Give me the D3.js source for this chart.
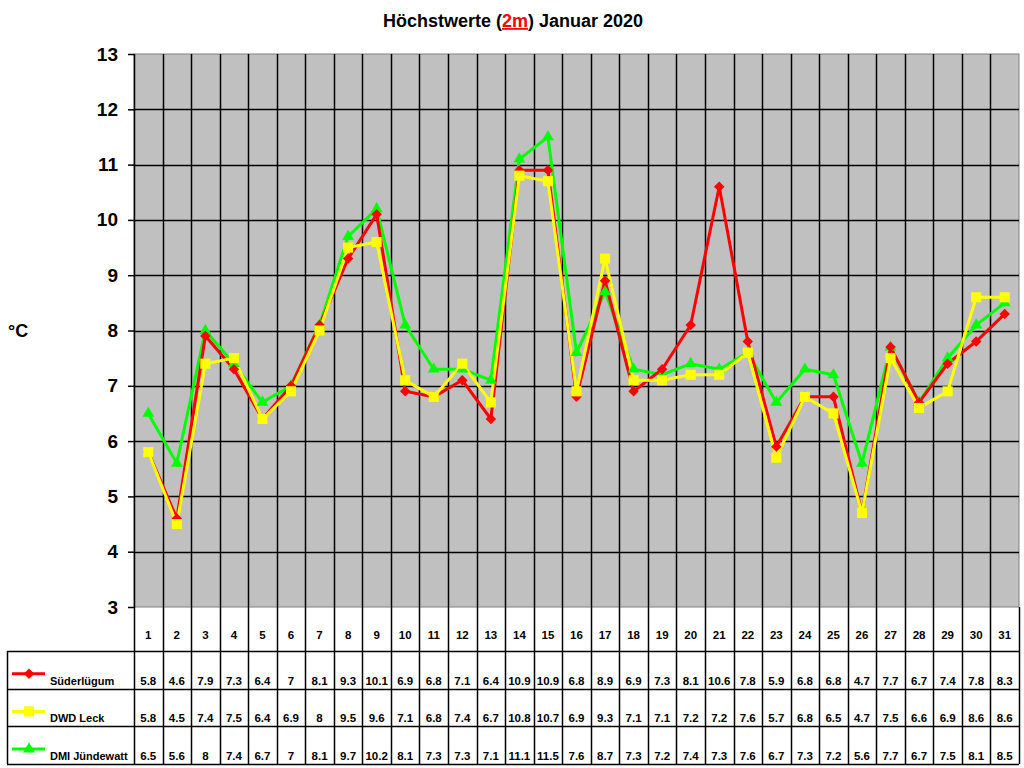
<!DOCTYPE html>
<html>
<head>
<meta charset="utf-8">
<script src="https://cdn.jsdelivr.net/npm/d3@7"></script>
<style>
  body { margin: 0; background: #fff; }
  text { font-family: Arial, "Liberation Sans", sans-serif; font-weight: bold; }
</style>
</head>
<body>
<div id="container"></div>
<script>
// Tageswerte Januar 2020
const days = d3.range(1, 32);
const suederluegum = [5.8, 4.6, 7.9, 7.3, 6.4, 7, 8.1, 9.3, 10.1, 6.9, 6.8, 7.1, 6.4, 10.9, 10.9, 6.8, 8.9, 6.9, 7.3, 8.1, 10.6, 7.8, 5.9, 6.8, 6.8, 4.7, 7.7, 6.7, 7.4, 7.8, 8.3];
const dwdLeck = [5.8, 4.5, 7.4, 7.5, 6.4, 6.9, 8, 9.5, 9.6, 7.1, 6.8, 7.4, 6.7, 10.8, 10.7, 6.9, 9.3, 7.1, 7.1, 7.2, 7.2, 7.6, 5.7, 6.8, 6.5, 4.7, 7.5, 6.6, 6.9, 8.6, 8.6];
const dmiJuendewatt = [6.5, 5.6, 8, 7.4, 6.7, 7, 8.1, 9.7, 10.2, 8.1, 7.3, 7.3, 7.1, 11.1, 11.5, 7.6, 8.7, 7.3, 7.2, 7.4, 7.3, 7.6, 6.7, 7.3, 7.2, 5.6, 7.7, 6.7, 7.5, 8.1, 8.5];
const seriesNames = ["Süderlügum", "DWD Leck", "DMI Jündewatt"];
const yTicks = d3.range(3, 14);

const series = [
  { name: seriesNames[0], values: suederluegum, color: "#ff0000", symbol: d3.symbolDiamond2, size: 70 },
  { name: seriesNames[1], values: dwdLeck, color: "#ffff00", symbol: d3.symbolSquare2, size: 130 },
  { name: seriesNames[2], values: dmiJuendewatt, color: "#00ff00", symbol: d3.symbolTriangle2, size: 100 }
];

const width = 1024, height = 768;
const plot = { left: 134, right: 1019, top: 54, bottom: 607 };
const table = { left: 7, dayBottom: 651, rowH: 37.7 };

const svg = d3.create("svg").attr("width", width).attr("height", height);
container.append(svg.node());

const x = d3.scaleBand().domain(days).range([plot.left, plot.right]);
const y = d3.scaleLinear().domain([3, 13]).range([plot.bottom, plot.top]);
const cx = d => x(d) + x.bandwidth() / 2;

// plot background
svg.append("rect")
  .attr("x", plot.left).attr("y", plot.top)
  .attr("width", plot.right - plot.left).attr("height", plot.bottom - plot.top)
  .attr("fill", "#c0c0c0").attr("stroke", "#808080");

const tableBottom = table.dayBottom + 3 * table.rowH;

// horizontal grid
svg.append("g").selectAll("line")
  .data(yTicks.slice(1, -1))
  .join("line")
  .attr("x1", plot.left).attr("x2", plot.right)
  .attr("y1", d => Math.round(y(d)) + 0.5).attr("y2", d => Math.round(y(d)) + 0.5)
  .attr("stroke", "#000").attr("stroke-width", 1.5);

// vertical lines through plot and table
svg.append("g").selectAll("line")
  .data(days.concat([32]))
  .join("line")
  .attr("x1", d => Math.round(d > 31 ? plot.right : x(d)) + 0.5)
  .attr("x2", d => Math.round(d > 31 ? plot.right : x(d)) + 0.5)
  .attr("y1", d => d > 31 ? plot.bottom : plot.top)
  .attr("y2", tableBottom)
  .attr("stroke", "#000").attr("stroke-width", 1.5);

// y axis
const yAxis = svg.append("g")
  .attr("transform", `translate(${plot.left},0)`)
  .call(d3.axisLeft(y).tickValues(yTicks).tickSize(6).tickPadding(10).tickFormat(d3.format("d")));
yAxis.select(".domain").remove();
yAxis.selectAll("line").attr("stroke", "#000").attr("stroke-width", 1.5);
yAxis.selectAll("text").attr("font-size", 19).attr("font-family", "Arial, 'Liberation Sans', sans-serif")
  .attr("font-weight", "bold").attr("fill", "#000");

svg.append("text").attr("x", 8).attr("y", 337).attr("font-size", 18).text("°C");

// title
const title = svg.append("text").attr("x", 513).attr("y", 27)
  .attr("text-anchor", "middle").attr("font-size", 18);
title.append("tspan").text("Höchstwerte (");
title.append("tspan").attr("fill", "#ff0000").attr("text-decoration", "underline").text("2m");
title.append("tspan").text(") Januar 2020");

// table rows
svg.append("g").selectAll("line")
  .data(d3.range(4))
  .join("line")
  .attr("x1", table.left).attr("x2", plot.right)
  .attr("y1", i => Math.round(table.dayBottom + i * table.rowH) + 0.5)
  .attr("y2", i => Math.round(table.dayBottom + i * table.rowH) + 0.5)
  .attr("stroke", "#000").attr("stroke-width", 1.5);
svg.append("line")
  .attr("x1", table.left + 0.5).attr("x2", table.left + 0.5)
  .attr("y1", table.dayBottom).attr("y2", tableBottom)
  .attr("stroke", "#000").attr("stroke-width", 1.5);

svg.append("g").selectAll("text")
  .data(days)
  .join("text")
  .attr("x", cx).attr("y", 639)
  .attr("text-anchor", "middle").attr("font-size", 11.5)
  .text(d => d);

const line = d3.line().x((d, i) => cx(days[i])).y(d => y(d));

// lines first (green below), then markers
const drawOrder = [series[2], series[0], series[1]];
drawOrder.forEach(s => {
  svg.append("path")
    .datum(s.values)
    .attr("d", line)
    .attr("fill", "none")
    .attr("stroke", s.color)
    .attr("stroke-width", 3)
    .attr("stroke-linejoin", "miter");
});
drawOrder.forEach(s => {
  svg.append("g").selectAll("path")
    .data(s.values)
    .join("path")
    .attr("transform", (d, i) => `translate(${cx(days[i])},${y(d)})`)
    .attr("d", d3.symbol(s.symbol, s.size))
    .attr("fill", s.color);
});

series.forEach((s, r) => {
  const rowBottom = table.dayBottom + (r + 1) * table.rowH;
  const g = svg.append("g");
  g.append("line")
    .attr("x1", 12).attr("x2", 45)
    .attr("y1", rowBottom - 15).attr("y2", rowBottom - 15)
    .attr("stroke", s.color).attr("stroke-width", 3);
  g.append("path")
    .attr("transform", `translate(29,${rowBottom - 15})`)
    .attr("d", d3.symbol(s.symbol, s.size))
    .attr("fill", s.color);
  g.append("text")
    .attr("x", 50).attr("y", rowBottom - 4)
    .attr("font-size", 11).text(s.name);
  g.selectAll(".v")
    .data(s.values)
    .join("text")
    .attr("class", "v")
    .attr("x", (d, i) => cx(days[i])).attr("y", rowBottom - 4)
    .attr("text-anchor", "middle").attr("font-size", 11.5)
    .text(d => d);
});
</script>
</body>
</html>
